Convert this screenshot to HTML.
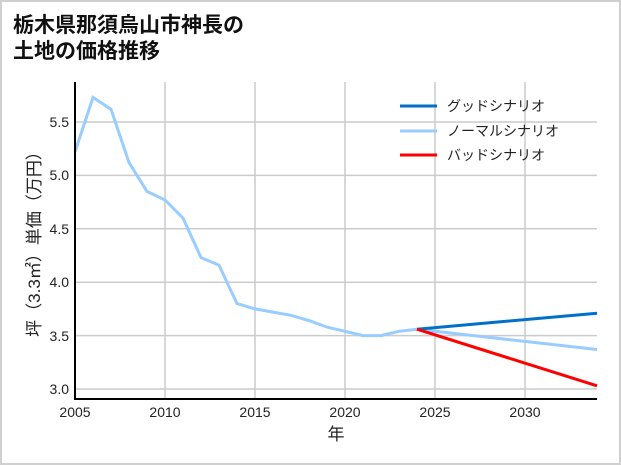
<!DOCTYPE html>
<html><head><meta charset="utf-8"><style>
html,body{margin:0;padding:0;background:#fff;}
svg{display:block;font-family:"Liberation Sans","Noto Sans CJK JP",sans-serif;}
</style></head><body>
<svg width="621" height="465" viewBox="0 0 621 465" xmlns="http://www.w3.org/2000/svg">
<rect x="1" y="1" width="619" height="463" fill="#fff" stroke="#d0d0d0" stroke-width="2"/>
<text x="13" y="32" font-size="21" font-weight="bold" fill="#111">栃木県那須烏山市神長の</text>
<text x="13" y="58" font-size="21" font-weight="bold" fill="#111">土地の価格推移</text>
<g stroke="#cccccc" stroke-width="1.5">
<line x1="165" y1="82" x2="165" y2="399"/><line x1="255" y1="82" x2="255" y2="399"/>
<line x1="345" y1="82" x2="345" y2="399"/><line x1="435" y1="82" x2="435" y2="399"/>
<line x1="525" y1="82" x2="525" y2="399"/>
<line x1="75" y1="389" x2="597" y2="389"/><line x1="75" y1="335.6" x2="597" y2="335.6"/>
<line x1="75" y1="282.2" x2="597" y2="282.2"/><line x1="75" y1="228.8" x2="597" y2="228.8"/>
<line x1="75" y1="175.4" x2="597" y2="175.4"/><line x1="75" y1="122" x2="597" y2="122"/>
</g>
<polyline fill="none" stroke="#99ccff" stroke-width="3" points="75,151.9 93,97.4 111,109.2 129,162.6 147,191.4 165,200 183,218.1 201,257.6 219,265.1 237,303.6 255,308.9 273,312.1 291,315.3 309,320.6 327,327.1 345,331.3 363,335.6 381,335.6 399,331.3 417,329.2 597,349.5"/>
<line x1="417" y1="329.2" x2="597" y2="313.2" stroke="#0070c9" stroke-width="3"/>
<line x1="417" y1="329.2" x2="597" y2="385.8" stroke="#ff0000" stroke-width="3"/>
<g stroke="#000" stroke-width="2"><line x1="75" y1="82" x2="75" y2="400"/><line x1="74" y1="399" x2="597" y2="399"/></g>
<g font-size="14" fill="#222" text-anchor="end">
<text x="69" y="394">3.0</text><text x="69" y="341">3.5</text><text x="69" y="287">4.0</text>
<text x="69" y="234">4.5</text><text x="69" y="180">5.0</text><text x="69" y="127">5.5</text>
</g>
<g font-size="14" fill="#222" text-anchor="middle">
<text x="75" y="417">2005</text><text x="165" y="417">2010</text><text x="255" y="417">2015</text>
<text x="345" y="417">2020</text><text x="435" y="417">2025</text><text x="525" y="417">2030</text>
<text x="336" y="440" font-size="17">年</text>
</g>
<text transform="translate(40,240) rotate(-90)" font-size="17" fill="#222" text-anchor="middle">坪（3.3㎡）単価（万円）</text>
<line x1="400" y1="106" x2="437" y2="106" stroke="#0070c9" stroke-width="3"/>
<line x1="400" y1="131" x2="437" y2="131" stroke="#99ccff" stroke-width="3"/>
<line x1="400" y1="155" x2="437" y2="155" stroke="#ff0000" stroke-width="3"/>
<g font-size="14" fill="#222">
<text x="447" y="111">グッドシナリオ</text><text x="447" y="136">ノーマルシナリオ</text><text x="447" y="160">バッドシナリオ</text>
</g>
</svg>
</body></html>
